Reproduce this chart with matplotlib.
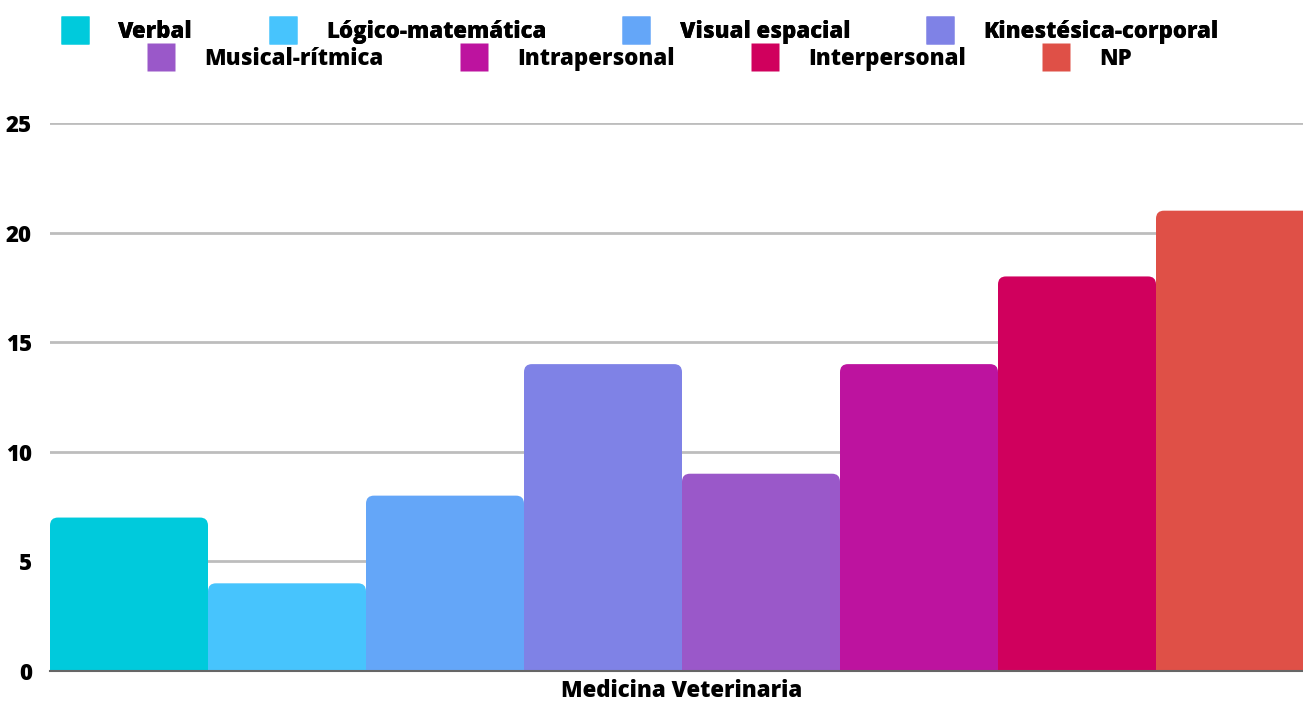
import matplotlib.pyplot as plt
from matplotlib.patches import FancyBboxPatch
from matplotlib.lines import Line2D

plt.rcParams['font.family'] = ['Open Sans', 'DejaVu Sans']

categories = ["Verbal", "Lógico-matemática", "Visual espacial", "Kinestésica-corporal",
              "Musical-rítmica", "Intrapersonal", "Interpersonal", "NP"]
values = [7, 4, 8, 14, 9, 14, 18, 21]
colors = ["#00cadc", "#47c4fd", "#64a6f8", "#7f82e6",
          "#9a58c9", "#bd139f", "#d0005d", "#df5047"]
group_label = "Medicina Veterinaria"
yticks = [0, 5, 10, 15, 20, 25]

W = 'heavy'

fig = plt.figure(figsize=(13.03, 7.04), dpi=100)
ax = fig.add_axes([50 / 1303, 1 - 671 / 704, 1264 / 1303, (671 - 123) / 704])

x = list(range(len(values)))
bars = ax.bar(x, values, width=1.0, color=colors, align='edge')

# swap the plain rectangles for ones with rounded tops
r_x = 0.05
aspect = 7.3
for b in bars:
    b.set_visible(False)
    x0, w, h = b.get_x(), b.get_width(), b.get_height()
    p = FancyBboxPatch((x0 + r_x, -2), w - 2 * r_x, h + 2 - r_x * aspect,
                       boxstyle=f"round,pad={r_x}", mutation_aspect=aspect,
                       facecolor=b.get_facecolor(), edgecolor='none', zorder=2)
    ax.add_patch(p)

ax.set_xlim(0, len(values))
ax.set_ylim(0, 25)
ax.set_yticks(yticks)
ax.set_xticks([])
ax.yaxis.grid(True, color='#bdbdbd', linewidth=2)
ax.set_axisbelow(True)
for s in ['top', 'right', 'left']:
    ax.spines[s].set_visible(False)
ax.spines['bottom'].set_color('#666666')
ax.spines['bottom'].set_linewidth(1.5)
ax.spines['bottom'].set_zorder(3)
ax.tick_params(axis='y', length=0, pad=13, labelsize=16)
for t in ax.get_yticklabels():
    t.set_fontweight(W)
ax.set_xlabel(group_label, fontsize=16, fontweight=W, labelpad=6)

handles = [Line2D([], [], linestyle='none', marker='s', markersize=20,
                  markerfacecolor=c, markeredgecolor='none') for c in colors]

leg_kw = dict(ncol=4, loc='center', frameon=False, prop={'weight': W, 'size': 16},
              handletextpad=1.35, columnspacing=3.45, handlelength=1.2)
leg1 = fig.legend(handles[:4], categories[:4],
                  bbox_to_anchor=(640 / 1303, 1 - 32 / 704), **leg_kw)
leg2 = fig.legend(handles[4:], categories[4:],
                  bbox_to_anchor=(640 / 1303, 1 - 59 / 704), **leg_kw)
fig.add_artist(leg1)

fig.savefig("out.png", dpi=100)
